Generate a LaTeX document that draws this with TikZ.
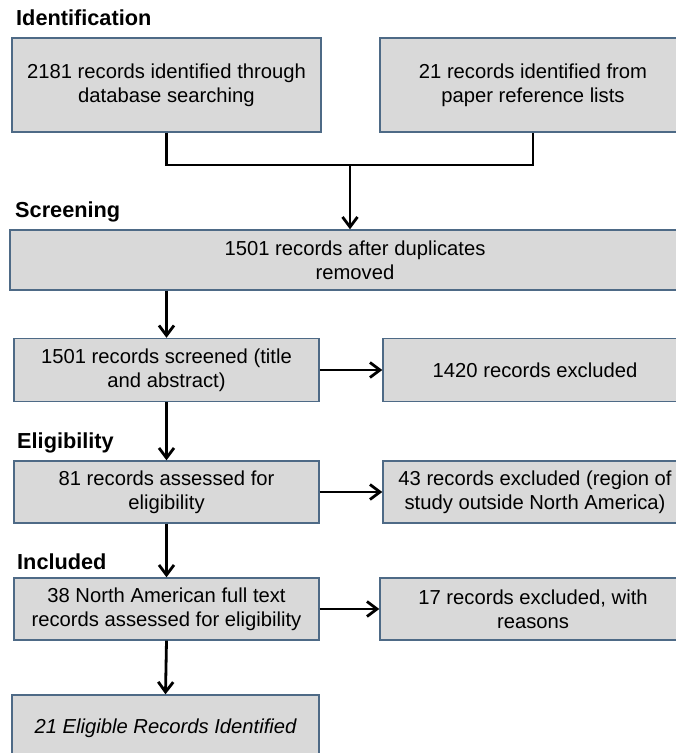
\documentclass[tikz,border=0pt]{standalone}
\usepackage{fontspec}
\setmainfont{Liberation Sans}
\usetikzlibrary{arrows.meta,positioning}
\definecolor{boxgray}{RGB}{217,217,217}
\definecolor{boxedge}{RGB}{78,106,134}

\tikzset{
  recbox/.style={draw=boxedge,line width=1.4bp,fill=boxgray,inner sep=0pt,
    align=center,font=\fontsize{20.3}{24}\selectfont},
  stage/.style={anchor=west,inner sep=0pt,font=\fontsize{21.8}{25}\selectfont\bfseries},
  flow/.style={line width=2.8bp,-{Straight Barb[length=10bp,width=15bp]}},
  joint/.style={line width=2.8bp}
}

\begin{document}
\begin{tikzpicture}[x=1bp,y=-1bp]
    \useasboundingbox (0,0) rectangle (676,753);
    \clip (0,0) rectangle (676,753);
    % stage headings
    \node[stage] (lblident) at (16,18) {Identification};
    \node[stage] (lblscreen) at (15,212) {Screening};
    \node[stage] (lblelig) at (17,443) {Eligibility};
    \node[stage] (lblincl) at (17,562) {Included};
    % record boxes, left column
    \node[recbox,minimum width=309bp,minimum height=94bp] (dbsearch) at (166.5,85)
      {2181 records identified through\\database searching};
    \node[recbox,minimum width=690bp,minimum height=60bp] (dedup) at (355,260)
      {1501 records after duplicates\\removed};
    \node[recbox,minimum width=305bp,minimum height=63bp] (screened) at (166.5,370)
      {1501 records screened (title\\and abstract)};
    \node[recbox,minimum width=305bp,minimum height=62bp] (assessed) at (166.5,492)
      {81 records assessed for\\eligibility};
    \node[recbox,minimum width=305bp,minimum height=62bp] (fulltext) at (166.5,609)
      {38 North American full text\\records assessed for eligibility};
    \node[recbox,minimum width=307bp,minimum height=66bp] (eligible) at (165.5,728)
      {\itshape 21 Eligible Records Identified};
    % record boxes, right column
    \node[recbox,minimum width=306bp,minimum height=94bp] (reflists) at (533,85)
      {21 records identified from\\paper reference lists};
    \node[recbox,minimum width=304bp,minimum height=63bp] (excl1) at (535,370)
      {1420 records excluded};
    \node[recbox,minimum width=304bp,minimum height=62bp] (excl2) at (535,492)
      {43 records excluded (region of\\study outside North America)};
    \node[recbox,minimum width=306bp,minimum height=62bp] (excl3) at (533,609)
      {17 records excluded, with\\reasons};
    % merge the two sources
    \coordinate (merge) at (350,165);
    \draw[joint] (dbsearch.south) |- (merge) -| (reflists.south);
    \draw[flow] (merge) -- (merge |- dedup.north);
    % main flow
    \draw[flow] (dedup.south -| screened.north) -- (screened.north);
    \draw[flow] (screened.south) -- (assessed.north);
    \draw[flow] (assessed.south) -- (fulltext.north);
    \draw[flow] (fulltext.south) -- (eligible.north);
    % exclusions
    \draw[flow] (screened.east) -- (excl1.west);
    \draw[flow] (assessed.east) -- (excl2.west);
    \draw[flow] (fulltext.east) -- (excl3.west);
\end{tikzpicture}
\end{document}
